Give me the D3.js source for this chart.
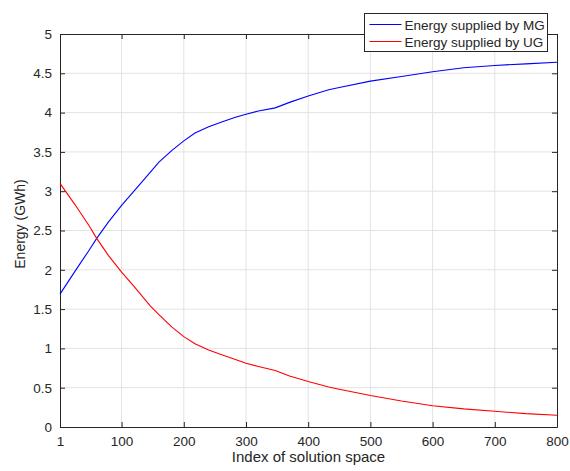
<!DOCTYPE html>
<html>
<head>
<meta charset="utf-8">
<script src="https://cdn.jsdelivr.net/npm/d3@7/dist/d3.min.js"></script>
<style>
  body { margin: 0; background: #fff; }
  text { font-family: "Liberation Sans", Arial, sans-serif; fill: #262626; }
</style>
</head>
<body>
<script>
// Energy supplied by MG / UG over the solution space index

var width = 570,
    height = 471;

var margin = {top: 34, right: 13, bottom: 44, left: 60};

// sampled solution indices
var idx = [1, 25, 47, 60, 79, 100, 122, 146, 160, 181, 200, 218, 240, 261, 283,
           300, 320, 347, 370, 400, 433, 450, 500, 550, 600, 650, 700, 750, 800];

var mgEnergy = [1.69, 1.98, 2.24, 2.40, 2.61, 2.82, 3.02, 3.24, 3.37, 3.52, 3.64, 3.74, 3.82, 3.88, 3.94,
                3.98, 4.02, 4.06, 4.13, 4.21, 4.29, 4.32, 4.40, 4.46, 4.52, 4.57, 4.60, 4.62, 4.64];

var ugEnergy = [3.10, 2.83, 2.57, 2.40, 2.18, 1.97, 1.77, 1.54, 1.43, 1.27, 1.15, 1.06, 0.98, 0.92, 0.86,
                0.81, 0.77, 0.72, 0.65, 0.58, 0.51, 0.48, 0.40, 0.33, 0.27, 0.23, 0.20, 0.17, 0.15];

var xTicks = [1, 100, 200, 300, 400, 500, 600, 700, 800];
var yTicks = [0, 0.5, 1, 1.5, 2, 2.5, 3, 3.5, 4, 4.5, 5];

var seriesNames = ["Energy supplied by MG", "Energy supplied by UG"];
var seriesColors = ["#0000ff", "#ff0000"];

var x = d3.scaleLinear().domain([1, 800]).range([margin.left, width - margin.right]);
var y = d3.scaleLinear().domain([0, 5]).range([height - margin.bottom, margin.top]);

var svg = d3.select("body").append("svg")
    .attr("width", width)
    .attr("height", height);

// grid
svg.append("g")
    .selectAll("line.gx")
    .data(xTicks.slice(1, -1))
  .enter().append("line")
    .attr("x1", d => x(d)).attr("x2", d => x(d))
    .attr("y1", y(0)).attr("y2", y(5))
    .attr("stroke", "#e3e3e3").attr("stroke-width", 1);

svg.append("g")
    .selectAll("line.gy")
    .data(yTicks.slice(1, -1))
  .enter().append("line")
    .attr("x1", x(1)).attr("x2", x(800))
    .attr("y1", d => y(d)).attr("y2", d => y(d))
    .attr("stroke", "#e3e3e3").attr("stroke-width", 1);

// axes, ticks inward like matlab
var tickLen = 5;
var xAxis = svg.append("g")
    .attr("transform", "translate(0," + y(0) + ")")
    .call(d3.axisBottom(x).tickValues(xTicks).tickSizeInner(-tickLen).tickSizeOuter(0).tickPadding(9));
var xTop = svg.append("g")
    .attr("transform", "translate(0," + y(5) + ")")
    .call(d3.axisTop(x).tickValues(xTicks).tickSizeInner(-tickLen).tickSizeOuter(0).tickFormat(""));
var yAxis = svg.append("g")
    .attr("transform", "translate(" + x(1) + ",0)")
    .call(d3.axisLeft(y).tickValues(yTicks).tickSizeInner(-tickLen).tickSizeOuter(0).tickPadding(8).tickFormat(d3.format("")));
var yRight = svg.append("g")
    .attr("transform", "translate(" + x(800) + ",0)")
    .call(d3.axisRight(y).tickValues(yTicks).tickSizeInner(-tickLen).tickSizeOuter(0).tickFormat(""));

[xAxis, xTop, yAxis, yRight].forEach(function(g) {
  g.selectAll("path").attr("stroke", "#262626").attr("stroke-width", 1);
  g.selectAll("line").attr("stroke", "#262626");
  g.selectAll("text").style("font-size", "13.5px").attr("fill", "#262626");
});

// lines
var line = d3.line()
    .x((d, i) => x(idx[i]))
    .y(d => y(d));

[mgEnergy, ugEnergy].forEach(function(vals, k) {
  svg.append("path")
      .datum(vals)
      .attr("d", line)
      .attr("fill", "none")
      .attr("stroke", seriesColors[k])
      .attr("stroke-width", 1.1);
});

// labels
svg.append("text")
    .attr("x", (x(1) + x(800)) / 2)
    .attr("y", 462)
    .attr("text-anchor", "middle")
    .style("font-size", "15px")
    .text("Index of solution space");

svg.append("text")
    .attr("transform", "translate(25,224) rotate(-90)")
    .attr("text-anchor", "middle")
    .style("font-size", "14px")
    .text("Energy (GWh)");

// legend
var legend = svg.append("g").attr("transform", "translate(364.5,13.5)");
legend.append("rect")
    .attr("width", 183).attr("height", 38)
    .attr("fill", "#fff").attr("stroke", "#262626").attr("stroke-width", 1);

seriesNames.forEach(function(name, k) {
  var yy = 11 + k * 17;
  legend.append("line")
      .attr("x1", 5).attr("x2", 37)
      .attr("y1", yy).attr("y2", yy)
      .attr("stroke", seriesColors[k]);
  legend.append("text")
      .attr("x", 40).attr("y", yy + 5)
      .style("font-size", "13.5px")
      .text(name);
});
</script>
</body>
</html>
